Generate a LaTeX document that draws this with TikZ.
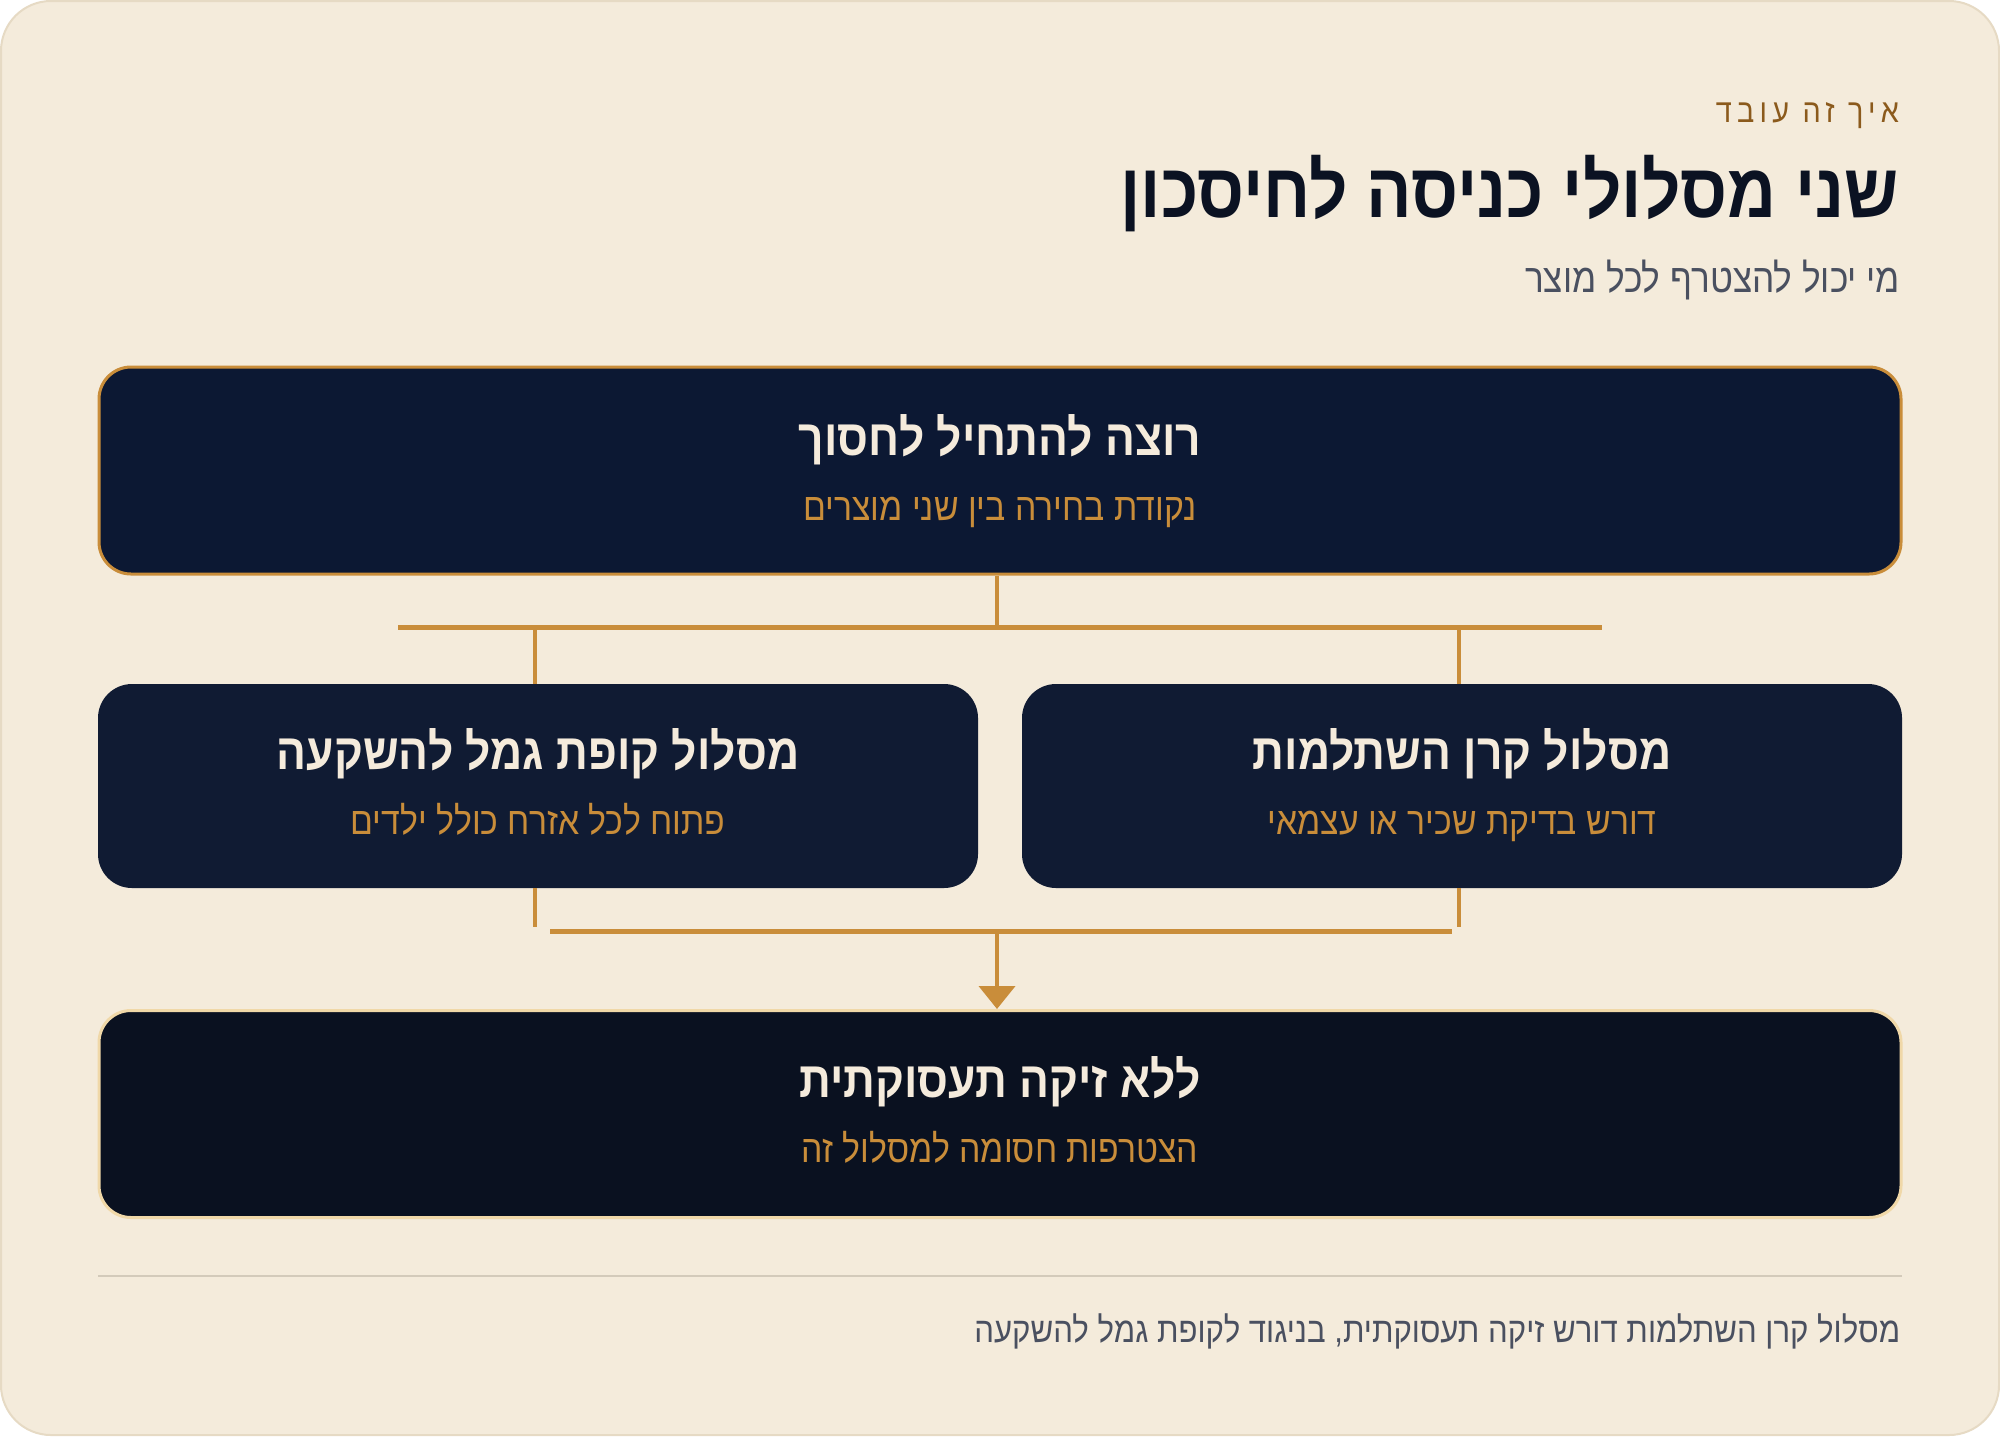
\documentclass[tikz,border=0pt]{standalone}
\usepackage{fontspec}
\setmainfont{Liberation Sans}
\newfontfamily\heb[Script=Hebrew,FakeStretch=0.88]{Liberation Sans}
\newfontfamily\hebsp[Script=Hebrew,FakeStretch=0.88,LetterSpace=16]{Liberation Sans}
\TeXXeTstate=1
\usetikzlibrary{arrows.meta}
\definecolor{bg}{HTML}{F4EBDB}
\definecolor{cardline}{HTML}{E6DAC4}
\definecolor{navytop}{HTML}{0C1833}
\definecolor{navymid}{HTML}{101B33}
\definecolor{navybot}{HTML}{0A1120}
\definecolor{gold}{HTML}{C98D3A}
\definecolor{lightgold}{HTML}{F0D8A8}
\definecolor{cream}{HTML}{F5EBDC}
\definecolor{ink}{HTML}{0B1222}
\definecolor{slate}{HTML}{4A5060}
\definecolor{brown}{HTML}{8B5A1C}
\definecolor{sep}{HTML}{D3CABA}
\newcommand{\rtl}[1]{\beginR #1\endR}
\tikzset{
  txt/.style={inner sep=0pt, outer sep=0pt, anchor=base},
  rtxt/.style={txt, anchor=base east},
  boxtitle/.style={txt, text=cream, font=\heb\bfseries\fontsize{25.2}{30}\selectfont},
  boxsub/.style={txt, text=gold, font=\heb\fontsize{19.2}{23}\selectfont},
  panel/.style={rounded corners=17pt, minimum width=880*0.5pt, minimum height=204*0.5pt, inner sep=0pt},
  wide/.style={rounded corners=16pt, minimum width=1802*0.5pt, minimum height=207*0.5pt, inner sep=0pt, line width=1.5pt},
  link/.style={draw=gold, line width=2pt},
  bus/.style={draw=gold, line width=2.5pt}
}
\begin{document}
\begin{tikzpicture}[x=0.5pt,y=-0.5pt]
\useasboundingbox (0,0) rectangle (2000,1436);
\fill[white] (0,0) rectangle (2000,1436);
\draw[fill=bg, draw=cardline, line width=1pt, rounded corners=25pt] (1,1) rectangle (1999,1435);

% header
\node[rtxt, text=brown, font=\hebsp\fontsize{16.4}{20}\selectfont] (eyebrow) at (1899,122) {\rtl{איך זה עובד}};
\node[rtxt, text=ink, font=\heb\bfseries\fontsize{38.3}{44}\selectfont] (title) at (1899,217) {\rtl{שני מסלולי כניסה לחיסכון}};
\node[rtxt, text=slate, font=\heb\fontsize{20}{24}\selectfont] (subtitle) at (1900,292) {\rtl{מי יכול להצטרף לכל מוצר}};

% boxes
\node[wide, fill=navytop, draw=gold] (start) at (1000,470.5) {};
\node[boxtitle] (startT) at (1000,455) {\rtl{רוצה להתחיל לחסוך}};
\node[boxsub] (startS) at (1000,520) {\rtl{נקודת בחירה בין שני מוצרים}};

\node[panel, fill=navymid] (gemel) at (538,786) {};
\node[boxtitle] (gemelT) at (538,769) {\rtl{מסלול קופת גמל להשקעה}};
\node[boxsub] (gemelS) at (538,834) {\rtl{פתוח לכל אזרח כולל ילדים}};

\node[panel, fill=navymid] (keren) at (1462,786) {};
\node[boxtitle] (kerenT) at (1462,769) {\rtl{מסלול קרן השתלמות}};
\node[boxsub] (kerenS) at (1462,834) {\rtl{דורש בדיקת שכיר או עצמאי}};

\node[wide, fill=navybot, draw=lightgold] (none) at (1000,1114) {};
\node[boxtitle] (noneT) at (1000,1097) {\rtl{ללא זיקה תעסוקתית}};
\node[boxsub] (noneS) at (1000,1162) {\rtl{הצטרפות חסומה למסלול זה}};

% top connectors
\coordinate (busL) at (398,627);
\coordinate (busR) at (1602,627);
\coordinate (busC) at (997,627);
\coordinate (gTop) at (535,627);
\coordinate (kTop) at (1459,627);
\draw[link] (start.south -| busC) -- (busC);
\draw[bus] (busL) -- (busR);
\draw[link] (gTop) -- (gTop |- gemel.north);
\draw[link] (kTop) -- (kTop |- keren.north);

% bottom connectors
\coordinate (gEnd) at (535,927);
\coordinate (kEnd) at (1459,927);
\coordinate (lowL) at (550,931);
\coordinate (lowR) at (1452,931);
\coordinate (lowC) at (997,931);
\draw[link] (gEnd |- gemel.south) -- (gEnd);
\draw[link] (kEnd |- keren.south) -- (kEnd);
\draw[bus] (lowL) -- (lowR);
\draw[link, -{Triangle[width=18pt,length=11.5pt]}] (lowC) -- (lowC |- none.north);

% footer
\coordinate (sepL) at (98,1276);
\coordinate (sepR) at (1902,1276);
\draw[draw=sep, line width=1pt] (sepL) -- (sepR);
\node[rtxt, text=slate, font=\heb\fontsize{17.7}{21}\selectfont] (footer) at (1900,1342) {\rtl{מסלול קרן השתלמות דורש זיקה תעסוקתית, בניגוד לקופת גמל להשקעה}};
\end{tikzpicture}
\end{document}
